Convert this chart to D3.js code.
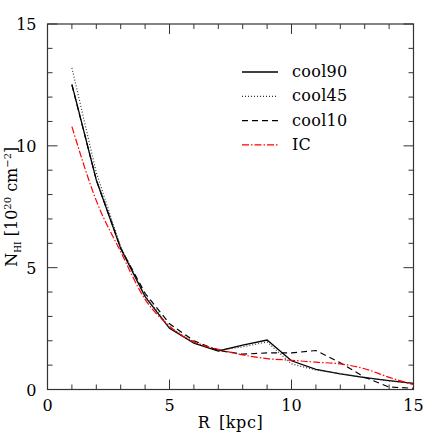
<!DOCTYPE html>
<html><head><meta charset="utf-8">
<script src="https://cdn.jsdelivr.net/npm/d3@7"></script>
<style>body{margin:0;background:#fff}svg{display:block}text{font-family:"DejaVu Serif",serif;fill:#000}</style>
</head><body>
<script>
const radius = [1,2,3,4,5,6,7,8,9,10,11,12,13,14,15];
const cool90 = [12.52,8.6,5.79,3.81,2.51,1.9,1.58,1.82,2.03,1.18,0.83,0.64,0.49,0.36,0.25];
const cool45 = [13.2,8.9,5.85,3.85,2.55,1.95,1.6,1.75,1.95,1.05,0.8,0.65,0.5,0.35,0.25];
const cool10 = [12.5,8.6,5.8,3.95,2.7,2.0,1.6,1.45,1.5,1.5,1.6,1.1,0.5,0.1,0.05];
const ic = [10.79,7.75,5.65,3.7,2.6,1.95,1.65,1.42,1.27,1.2,1.12,1.05,0.85,0.5,0.2];
const seriesNames = ["cool90","cool45","cool10","IC"];
const xTicks = [0,5,10,15];
const yTicks = [0,5,10,15];

const W=436,H=436;
const m={l:47.5,r:22.5,t:24,b:46.5};
const svg=d3.select("body").append("svg").attr("width",W).attr("height",H);
const x=d3.scaleLinear().domain([0,15]).range([m.l,W-m.r]);
const y=d3.scaleLinear().domain([0,15]).range([H-m.b,m.t]);

const minor=d3.range(0,16,1);
const g=svg.append("g");
const axCol="#333";
function ticksH(yy,dir){
  minor.forEach(v=>{const L=(v%5===0)?10:5;
    g.append("line").attr("x1",x(v)).attr("x2",x(v)).attr("y1",yy).attr("y2",yy+dir*L).attr("stroke",axCol).attr("stroke-width",1);});
}
function ticksV(xx,dir){
  minor.forEach(v=>{const L=(v%5===0)?10:5;
    g.append("line").attr("y1",y(v)).attr("y2",y(v)).attr("x1",xx).attr("x2",xx+dir*L).attr("stroke",axCol).attr("stroke-width",1);});
}
ticksH(y(0),-1);ticksH(y(15),1);ticksV(x(0),1);ticksV(x(15),-1);
g.append("rect").attr("x",x(0)).attr("y",y(15)).attr("width",x(15)-x(0)).attr("height",y(0)-y(15)).attr("fill","none").attr("stroke",axCol).attr("stroke-width",1.2);

xTicks.forEach(v=>svg.append("text").attr("x",x(v)).attr("y",H-m.b+21).attr("text-anchor","middle").attr("font-size",16).text(v));
yTicks.forEach(v=>svg.append("text").attr("x",x(0)-11).attr("y",y(v)+6).attr("text-anchor","end").attr("font-size",16).text(v));

svg.append("text").attr("x",(x(0)+x(15))/2).attr("y",428).attr("text-anchor","middle").attr("font-size",16).attr("letter-spacing",0.6).attr("word-spacing",3).text("R [kpc]");
const yl=svg.append("text").attr("transform",`translate(17,${(y(0)+y(15))/2}) rotate(-90)`).attr("text-anchor","middle").attr("font-size",16);
yl.append("tspan").text("N");
yl.append("tspan").attr("font-size",9).attr("dy",4).text("HI");
yl.append("tspan").attr("dy",-4).text(" [10");
yl.append("tspan").attr("font-size",10).attr("dy",-6).text("20");
yl.append("tspan").attr("dy",6).text(" cm");
yl.append("tspan").attr("font-size",10).attr("dy",-6).text("−2");
yl.append("tspan").attr("dy",6).text("]");

const styles=[
 {data:cool90,color:"#000",dash:null,w:1.3,curve:d3.curveLinear},
 {data:cool45,color:"#333",dash:"1,2",w:1.2,curve:d3.curveLinear},
 {data:cool10,color:"#000",dash:"6,4",w:1.2,curve:d3.curveLinear},
 {data:ic,color:"#ff0000",dash:"7,2,1.5,2",w:1.2,curve:d3.curveMonotoneX}
];
svg.append("clipPath").attr("id","c").append("rect").attr("x",x(0)).attr("y",y(15)).attr("width",x(15)-x(0)).attr("height",y(0)-y(15));
styles.forEach(s=>{
  const line=d3.line().x((d,i)=>x(radius[i])).y(d=>y(d)).curve(s.curve);
  svg.append("path").attr("d",line(s.data)).attr("fill","none").attr("stroke",s.color).attr("stroke-width",s.w).attr("stroke-dasharray",s.dash).attr("clip-path","url(#c)");
});
styles.forEach((s,i)=>{
  const yy=72+i*24.3;
  svg.append("line").attr("x1",242).attr("x2",278).attr("y1",yy).attr("y2",yy).attr("stroke",s.color).attr("stroke-width",s.w).attr("stroke-dasharray",s.dash);
  svg.append("text").attr("x",292).attr("y",yy+5).attr("font-size",16).attr("letter-spacing",0.3).text(seriesNames[i]);
});
</script>
</body></html>
